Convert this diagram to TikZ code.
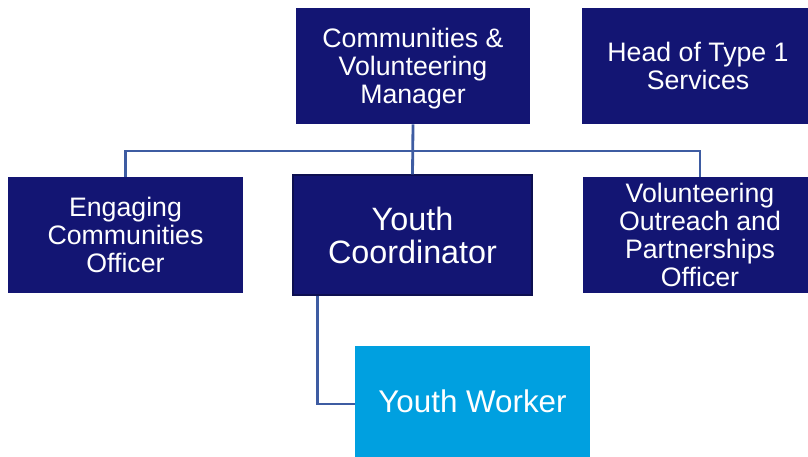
\documentclass[tikz,border=0pt]{standalone}
\usepackage{fontspec}
\setmainfont{Liberation Sans}
\usepackage{xcolor}
\usepackage{tikz}
\usetikzlibrary{positioning,calc}

\definecolor{navybox}{RGB}{19,21,115}
\definecolor{skybox}{RGB}{0,160,224}
\definecolor{linkblue}{RGB}{62,92,162}

\tikzset{
    rolebox/.style={fill=navybox, text=white, inner sep=0pt, align=center,
        font=\fontsize{19}{20}\selectfont},
    link/.style={draw=linkblue, line width=2pt}
}

\begin{document}
\begin{tikzpicture}[x=0.025cm, y=-0.025cm]
    \useasboundingbox (0,0) rectangle (808,457);

    % Top row
    \node[rolebox, text depth=-3pt, minimum width=5.85cm, minimum height=2.9cm] (mgr) at (413,66)
        {Communities \&\\Volunteering\\Manager};
    \node[rolebox, minimum width=5.8cm, minimum height=2.9cm] (head) at (698,66)
        {Head of Type 1\\Services};

    % Middle row
    \node[rolebox, minimum width=5.875cm, minimum height=2.9cm] (eng) at (125.5,235)
        {Engaging\\Communities\\Officer};
    \node[rolebox, draw=navybox!70!black, line width=0.8pt, minimum width=5.975cm, minimum height=3cm,
        font=\fontsize{23}{23.5}\selectfont] (yc) at (412.5,235)
        {Youth\\Coordinator};
    \node[rolebox, minimum width=5.85cm, minimum height=2.9cm] (vol) at (700,235)
        {Volunteering\\Outreach and\\Partnerships\\Officer};

    % Bottom
    \node[rolebox, fill=skybox, text depth=-4.2pt, minimum width=5.875cm, minimum height=2.775cm,
        font=\fontsize{22.3}{24}\selectfont] (yw) at (472.5,401.5)
        {Youth Worker};

    % Connectors
    \coordinate (bar) at (413,151);
    \draw[link] (mgr.south) -- (yc.north);
    \draw[link] (eng.north) |- (bar) -| (vol.north);
    \draw[link] ($(yc.south west)+(25,0)$) |- ($(yw.west)+(0,2.5)$);
\end{tikzpicture}
\end{document}
